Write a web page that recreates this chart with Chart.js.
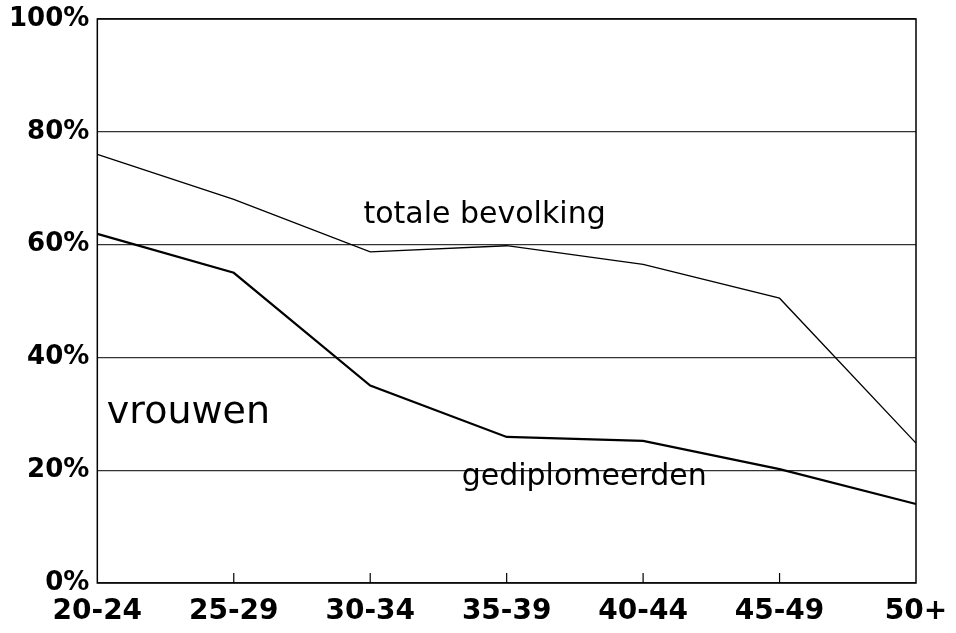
<!DOCTYPE html>
<html lang="nl">
<head>
  <meta charset="UTF-8" />
  <title>vrouwen</title>
  <script src="https://cdn.jsdelivr.net/npm/chart.js"></script>
  <style>
    body { margin: 0; padding: 0; background: #fff; }
    .wrap { width: 956px; height: 633px; }
  </style>
</head>
<body>
  <div class="wrap"><canvas id="chart"></canvas></div>

  <script>
    const ageGroups = ["20-24", "25-29", "30-34", "35-39", "40-44", "45-49", "50+"];
    const totaleBevolking = [76, 68, 58.7, 59.8, 56.5, 50.5, 24.8];
    const gediplomeerden = [61.9, 55, 35, 25.9, 25.2, 20.2, 14];

    // labels written inside the plot (x = category index, y = percent)
    const notes = [
      { text: "totale bevolking", x: 1.95, y: 63.8, size: 30 },
      { text: "gediplomeerden", x: 2.67, y: 17.4, size: 30 },
      { text: "vrouwen", x: 0.07, y: 28.4, size: 38 }
    ];

    const FONT = "'DejaVu Sans', sans-serif";

    const boxAndTicks = {
      id: "boxAndTicks",
      afterDatasetsDraw(chart) {
        const { ctx, chartArea: a, scales } = chart;
        ctx.save();
        ctx.strokeStyle = "#000";
        ctx.lineWidth = 1.5;
        ctx.strokeRect(a.left, a.top, a.right - a.left, a.bottom - a.top);
        ctx.lineWidth = 1.2;
        const xs = scales.x;
        for (let i = 1; i < ageGroups.length - 1; i++) {
          const px = xs.getPixelForTick(i);
          ctx.beginPath();
          ctx.moveTo(px, a.bottom);
          ctx.lineTo(px, a.bottom - 10);
          ctx.stroke();
        }
        ctx.fillStyle = "#000";
        ctx.textBaseline = "alphabetic";
        ctx.textAlign = "left";
        notes.forEach(n => {
          ctx.font = n.size + "px " + FONT;
          ctx.fillText(n.text, xs.getPixelForValue(n.x), scales.y.getPixelForValue(n.y));
        });
        ctx.restore();
      }
    };

    new Chart(document.getElementById("chart"), {
      type: "line",
      data: {
        labels: ageGroups,
        datasets: [
          { label: "totale bevolking", data: totaleBevolking, borderColor: "#000", borderWidth: 1.3, pointRadius: 0, tension: 0 },
          { label: "gediplomeerden", data: gediplomeerden, borderColor: "#000", borderWidth: 2.2, pointRadius: 0, tension: 0 }
        ]
      },
      options: {
        responsive: true,
        maintainAspectRatio: false,
        animation: false,
        layout: { padding: { top: 0, right: 0, left: 1, bottom: 2 } },
        plugins: { legend: { display: false }, tooltip: { enabled: false } },
        scales: {
          x: {
            grid: { display: false, drawTicks: false },
            border: { display: false },
            afterFit(scale) { scale.height = 48; scale.paddingRight = 40; },
            ticks: { color: "#000", padding: 12, maxRotation: 0, autoSkip: false, font: { family: FONT, size: 28, weight: "bold" } }
          },
          y: {
            min: 0,
            max: 100,
            grid: { color: "#333", lineWidth: 1.2, drawTicks: false },
            border: { display: false },
            afterFit(scale) { scale.paddingTop = 19; },
            ticks: { stepSize: 20, color: "#000", padding: 8, callback: v => v + "%", font: { family: FONT, size: 26, weight: "bold" } }
          }
        }
      },
      plugins: [boxAndTicks]
    });
  </script>
</body>
</html>
